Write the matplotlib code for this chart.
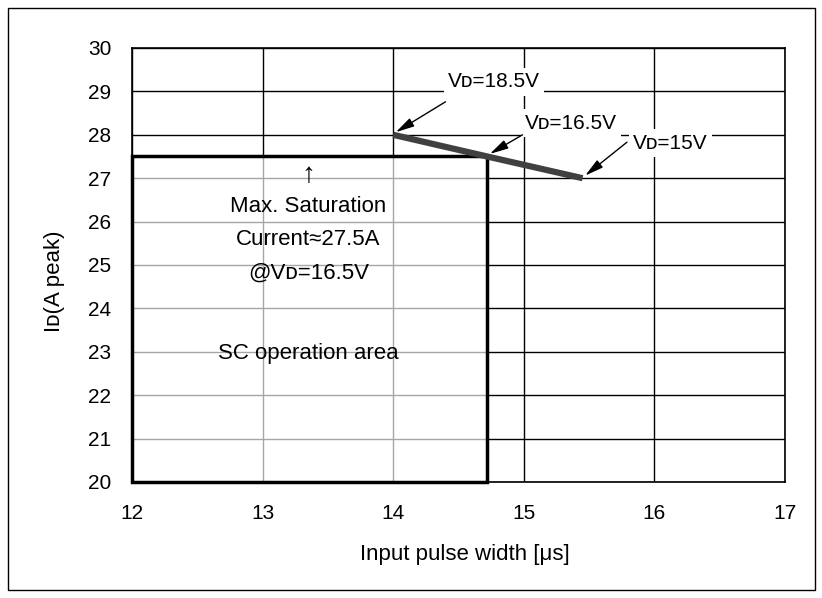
import matplotlib.pyplot as plt
from matplotlib.patches import Rectangle

plt.rcParams['font.family'] = ['Liberation Sans', 'DejaVu Sans']

# data
line_x = [14.0, 14.72, 15.45]
line_y = [28.0, 27.5, 27.0]
labels = ['Vᴅ=18.5V', 'Vᴅ=16.5V', 'Vᴅ=15V']
label_pos = [(14.77, 29.22), (15.36, 28.27), (16.12, 27.81)]
arrow_from = [(14.40, 28.76), (14.99, 28.0), (15.79, 27.83)]
sc_width = 14.72
sc_current = 27.5
x_ticks = [12, 13, 14, 15, 16, 17]
y_ticks = [20, 21, 22, 23, 24, 25, 26, 27, 28, 29, 30]

fig = plt.figure(figsize=(8.22, 5.98), dpi=100)
ax = fig.add_axes([132/822, 1 - 482/598, (785-132)/822, (482-48)/598])
ax.set_xlim(12, 17)
ax.set_ylim(20, 30)
ax.set_xticks(x_ticks)
ax.set_yticks(y_ticks)
ax.tick_params(length=0, labelsize=15)
ax.tick_params(axis='y', pad=15)
ax.tick_params(axis='x', pad=16)
for s in ax.spines.values():
    s.set_linewidth(1.2)
ax.grid(True, color='black', lw=1)
ax.set_axisbelow(True)

# SC operation area: white box with grey grid inside
ax.add_patch(Rectangle((12, 20), sc_width - 12, sc_current - 20, facecolor='white',
                       edgecolor='none', zorder=1.5))
ax.hlines([y for y in y_ticks if 20 < y < sc_current], 12, sc_width, color='#a6a6a6', lw=1, zorder=1.6)
ax.vlines([x for x in x_ticks if 12 < x < sc_width], 20, sc_current, color='#a6a6a6', lw=1, zorder=1.6)
ax.add_patch(Rectangle((12, 20), sc_width - 12, sc_current - 20, facecolor='none',
                       edgecolor='black', lw=2.5, zorder=3, clip_on=False))

ax.plot(line_x, line_y, color='#404040', lw=4.5, solid_capstyle='butt', zorder=4)

for lab, (tx, ty), (fx, fy), px, py in zip(labels, label_pos, arrow_from, line_x, line_y):
    ax.text(tx, ty, lab, ha='center', va='center', fontsize=15,
            bbox=dict(facecolor='white', edgecolor='none', pad=3), zorder=5)
    ax.annotate('', xy=(px + 0.02, py + 0.06), xytext=(fx, fy),
                arrowprops=dict(arrowstyle='-|>,head_length=0.8,head_width=0.2', color='black',
                                lw=1, mutation_scale=14, shrinkA=0, shrinkB=0), zorder=5)

ax.text(13.35, 27.07, '↑', ha='center', va='center', fontsize=20, fontweight='light', zorder=5)
ax.text(13.35, 26.34, 'Max. Saturation', ha='center', va='center', fontsize=16, zorder=5)
ax.text(13.35, 25.58, 'Current≈27.5A', ha='center', va='center', fontsize=16, zorder=5)
ax.text(13.35, 24.82, '@Vᴅ=16.5V', ha='center', va='center', fontsize=16, zorder=5)
ax.text(13.35, 22.95, 'SC operation area', ha='center', va='center', fontsize=16, zorder=5)

ax.set_xlabel('Input pulse width [μs]', fontsize=16)
ax.set_ylabel('Iᴅ(A peak)', fontsize=16)
ax.xaxis.set_label_coords(0.51, -0.168)
ax.yaxis.set_label_coords(-0.118, 0.463)
ax.xaxis.label.set_va('center')
ax.yaxis.label.set_va('center')

fig.patches.append(Rectangle((8/822, 8/598), 807/822, 582/598, transform=fig.transFigure,
                             facecolor='none', edgecolor='black', lw=1))

fig.savefig('out.png', dpi=100)
